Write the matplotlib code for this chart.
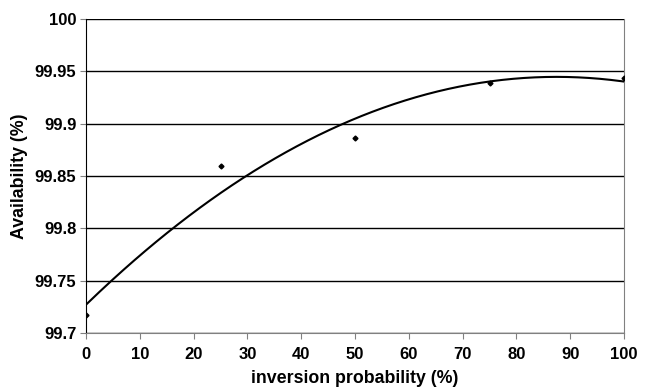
import matplotlib.pyplot as plt
import numpy as np

# data
inv_prob = [0, 25, 50, 75, 100]
availability = [99.717, 99.860, 99.886, 99.939, 99.944]
x_ticks = list(range(0, 101, 10))
y_ticks = [99.7, 99.75, 99.8, 99.85, 99.9, 99.95, 100]
y_tick_labels = ["99.7", "99.75", "99.8", "99.85", "99.9", "99.95", "100"]

plt.rcParams["font.family"] = ["Liberation Sans", "DejaVu Sans"]
plt.rcParams["font.weight"] = "bold"

fig = plt.figure(figsize=(6.56, 3.88), dpi=100)
ax = fig.add_axes([86 / 656, 1 - 333 / 388, (624 - 86) / 656, (333 - 19) / 388])

# 2nd order polynomial trend line, as in the spreadsheet original
coef = np.polyfit(inv_prob, availability, 2)
xs = np.linspace(0, 100, 200)
ax.plot(xs, np.polyval(coef, xs), color="black", lw=1.5, zorder=3)
ax.plot(inv_prob, availability, "D", color="black", ms=2.5, zorder=4)

ax.set_xlim(0, 100)
ax.set_ylim(99.7, 100)
ax.set_xticks(x_ticks)
ax.set_yticks(y_ticks)
ax.set_yticklabels(y_tick_labels)
ax.yaxis.grid(True, color="black", lw=1)
ax.tick_params(axis="both", labelsize=12, length=4, color="gray")
ax.tick_params(axis="x", pad=6)
ax.tick_params(axis="y", pad=3)

ax.spines["top"].set_visible(False)
ax.spines["left"].set_color("black")
ax.spines["right"].set_color("gray")
ax.spines["bottom"].set_color("gray")

ax.set_xlabel("inversion probability (%)", fontsize=12.8, fontweight="bold", labelpad=6)
ax.set_ylabel("Availability (%)", fontsize=12.8, fontweight="bold", labelpad=5)

fig.savefig("out.png", dpi=100)
